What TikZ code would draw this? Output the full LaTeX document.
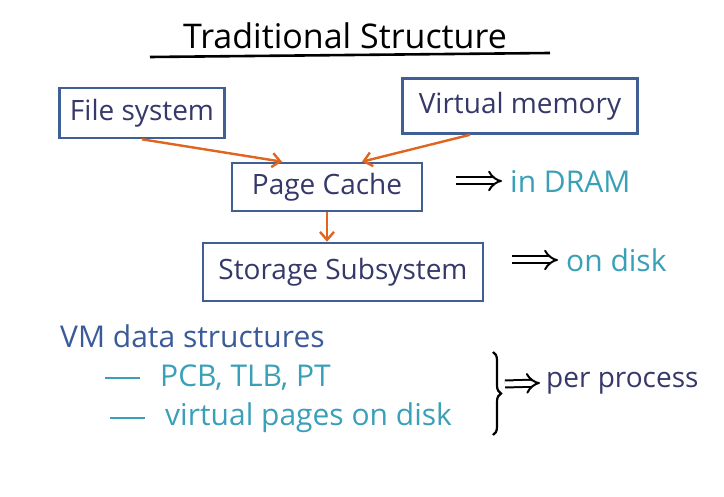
\documentclass[tikz,border=0pt]{standalone}
\usepackage{fontspec}
\setmainfont{Open Sans}
\usetikzlibrary{positioning,calc,arrows.meta,decorations.pathreplacing}
\definecolor{inkbox}{HTML}{3F5F95}
\definecolor{inktext}{HTML}{353868}
\definecolor{inkteal}{HTML}{3AA0B8}
\definecolor{inkblue}{HTML}{3A5A9A}
\definecolor{inkorange}{HTML}{E0651E}
\begin{document}
\begin{tikzpicture}[x=1pt,y=1pt,yscale=-1,xscale=1]
  \tikzstyle{box} = [draw=inkbox,line width=2.6pt,text=inktext,font=\fontsize{28}{32}\selectfont,inner sep=0pt]
  \tikzstyle{arrow} = [inkorange,line width=2.4pt,-{Straight Barb[length=8pt,width=14pt]}]
  \tikzstyle{implies} = [black,line width=2pt,double,double distance=5pt,-{Implies}]
  \tikzstyle{note} = [font=\fontsize{30}{34}\selectfont,inner sep=0pt]
  \useasboundingbox (0,0) rectangle (724,497);
  % title
  \node (title) [note,text=black,font=\fontsize{34}{38}\selectfont] at (345,36) {Traditional Structure};
  \draw [line width=2.6pt] (150,57) -- (550,53);
  % the boxes
  \node (fs) [box,minimum width=165,minimum height=50] at (142,113) {File system};
  \node (vm) [box,minimum width=235,minimum height=55] at (520,106) {Virtual memory};
  \node (pc) [box,minimum width=190,minimum height=48] at (327,187) {Page Cache};
  \node (ss) [box,minimum width=280,minimum height=58] at (343,272) {Storage Subsystem};
  % arrows between boxes
  \draw [arrow] (fs.south) -- ([xshift=-45pt]pc.north);
  \draw [arrow] ([xshift=-50pt]vm.south) -- ([xshift=35pt]pc.north);
  \draw [arrow] (pc.south) -- (pc.south |- ss.north);
  % where they live
  \node (dram) [note,text=inkteal,anchor=west] at (510,181) {in DRAM};
  \draw [implies] ([xshift=33pt]pc.east |- dram.west) -- ([xshift=-8pt]dram.west);
  \node (disk) [note,text=inkteal,anchor=west] at (566,260) {on disk};
  \draw [implies] ([xshift=28pt]ss.east |- disk.west) -- ([xshift=-8pt]disk.west);
  % VM data structures
  \node (vmds) [note,text=inkblue,anchor=west] at (60,336) {VM data structures};
  \node (pcb) [note,text=inkteal,anchor=west] at (160,378) {PCB, TLB, PT};
  \node (vp) [note,text=inkteal,anchor=west] at (165,418) {virtual pages on disk};
  \draw [inkteal,line width=2.6pt] ([xshift=-55pt]pcb.west) -- ([xshift=-20pt]pcb.west);
  \draw [inkteal,line width=2.6pt] ([xshift=-55pt]vp.west) -- ([xshift=-20pt]vp.west);
  % brace
  \coordinate (bt) at (493,352);
  \coordinate (bb) at (493,435);
  \draw [black,line width=2.2pt,decorate,decoration={brace,amplitude=8pt}] (bt) -- (bb);
  \node (pp) [note,text=inktext,anchor=west,font=\fontsize{28}{32}\selectfont] at (546,383) {per process};
  \draw [implies] (505,384) -- ([xshift=-6pt]pp.west);
\end{tikzpicture}
\end{document}
